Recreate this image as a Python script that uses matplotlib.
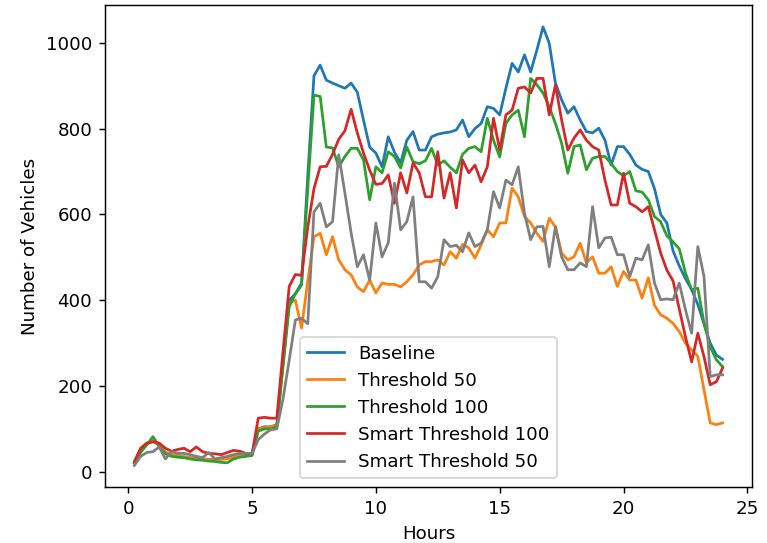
import numpy as np
import matplotlib
matplotlib.use("Agg")
import matplotlib.pyplot as plt

# kvarterstimer 0.25 .. 24
hours = np.arange(1, 97) * 0.25

baseline = [22, 50, 65, 72, 62, 45, 40, 37, 35, 33, 31, 30, 29, 29, 30, 31,
            36, 40, 41, 40, 100, 105, 105, 110, 255, 400, 415, 440, 690, 923, 948, 913,
            906, 900, 894, 906, 885, 820, 757, 743, 711, 781, 745, 720, 773, 793, 750, 750,
            781, 787, 790, 792, 797, 820, 781, 800, 812, 851, 847, 832, 894, 952, 932, 972,
            932, 983, 1037, 999, 906, 867, 836, 851, 820, 793, 790, 801, 773, 715, 758, 758,
            740, 715, 705, 700, 660, 600, 580, 515, 480, 450, 425, 390, 345, 300, 272, 262]

threshold_50 = [22, 52, 66, 72, 63, 46, 40, 38, 35, 33, 30, 30, 29, 28, 29, 30,
                35, 39, 40, 40, 100, 103, 105, 108, 250, 393, 400, 335, 445, 548, 556, 506,
                548, 494, 471, 459, 431, 420, 447, 417, 440, 437, 437, 431, 443, 459, 482, 490,
                490, 494, 482, 513, 498, 530, 522, 498, 529, 564, 548, 580, 580, 661, 641, 595,
                580, 556, 537, 591, 571, 510, 494, 501, 533, 487, 501, 463, 463, 478, 432, 467,
                447, 447, 405, 452, 388, 366, 358, 346, 327, 300, 284, 269, 191, 114, 110, 114]

threshold_100 = [20, 45, 63, 82, 59, 42, 36, 34, 33, 30, 28, 27, 25, 24, 22, 21,
                 30, 34, 36, 38, 95, 100, 100, 105, 245, 385, 415, 435, 660, 878, 875, 757,
                 755, 711, 735, 754, 754, 727, 634, 711, 697, 746, 735, 708, 757, 723, 718, 725,
                 754, 715, 725, 710, 697, 740, 754, 758, 746, 824, 773, 734, 812, 832, 843, 781,
                 917, 902, 883, 851, 812, 766, 696, 758, 762, 704, 731, 735, 735, 719, 700, 690,
                 700, 655, 652, 634, 595, 583, 550, 536, 520, 464, 424, 428, 346, 291, 261, 245]

smart_100 = [24, 55, 67, 70, 67, 55, 48, 52, 55, 47, 58, 47, 43, 42, 40, 45,
             50, 48, 43, 42, 125, 127, 125, 125, 280, 432, 460, 458, 570, 660, 711, 712,
             740, 775, 795, 845, 790, 743, 703, 670, 672, 692, 626, 697, 650, 720, 697, 641,
             641, 746, 638, 697, 615, 727, 697, 715, 676, 711, 824, 750, 832, 843, 894, 897,
             883, 917, 917, 832, 902, 820, 750, 778, 797, 773, 758, 750, 680, 622, 622, 696,
             626, 618, 606, 618, 564, 510, 470, 445, 380, 315, 256, 323, 268, 203, 210, 242]

smart_50 = [15, 36, 45, 47, 58, 30, 47, 43, 43, 40, 36, 33, 45, 30, 33, 36,
            40, 43, 43, 42, 75, 88, 98, 100, 170, 260, 354, 358, 345, 606, 626, 571,
            583, 739, 650, 557, 478, 506, 447, 580, 501, 534, 673, 564, 583, 641, 443, 443,
            428, 455, 541, 525, 528, 513, 557, 525, 533, 564, 653, 615, 680, 669, 711, 603,
            541, 571, 572, 478, 571, 501, 471, 471, 487, 478, 618, 522, 545, 547, 506, 506,
            455, 498, 494, 529, 440, 401, 403, 401, 440, 378, 323, 525, 455, 222, 226, 226]

series = [baseline, threshold_50, threshold_100, smart_100, smart_50]
names = ['Baseline', 'Threshold 50', 'Threshold 100', 'Smart Threshold 100', 'Smart Threshold 50']
colors = ['tab:blue', 'tab:orange', 'tab:green', 'tab:red', 'tab:gray']

fig = plt.figure(figsize=(767 / 131, 543 / 131), dpi=131)
ax = fig.add_axes([105 / 767, 1 - 487.3 / 543, 647 / 767, 482.3 / 543])

for i in range(len(series)):
    ax.plot(hours, series[i], color=colors[i], label=names[i])

ax.set_xlabel('Hours')
ax.set_ylabel('Number of Vehicles')
ax.set_xticks([0, 5, 10, 15, 20, 25])
ax.set_yticks([0, 200, 400, 600, 800, 1000])
ax.legend(loc='lower center')

fig.savefig('out.png', dpi=131)
